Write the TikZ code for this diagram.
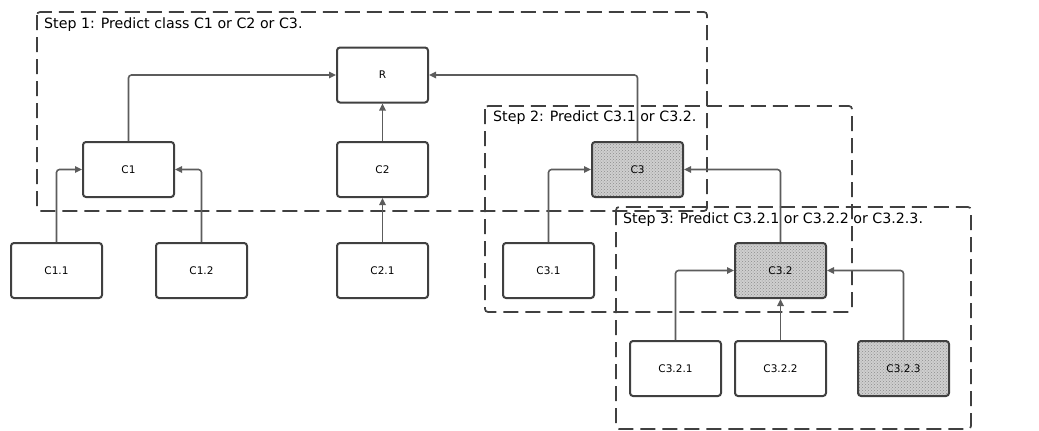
\documentclass[tikz,border=0pt]{standalone}
\usepackage{fontspec}
\setmainfont{DejaVu Sans}
\usepackage{xcolor}
\usepackage{tikz}
\usetikzlibrary{arrows.meta, positioning, patterns}
\definecolor{trait}{HTML}{404040}
\definecolor{lienc}{HTML}{5C5C5C}
\definecolor{fondgris}{HTML}{CFCFCF}
\tikzset{
  bloc/.style={rectangle, rounded corners=3pt, draw=trait, line width=2pt,
    fill=white, font=\fontsize{10.5}{12}\selectfont, minimum width=91pt,
    minimum height=55pt, inner sep=0pt},
  blocgris/.style={bloc, preaction={fill=fondgris},
    pattern=crosshatch dots, pattern color=gray!90},
  fleche/.style={-{Triangle[length=7pt, width=6.5pt]}, line width=1.6pt,
    color=lienc, rounded corners=3pt},
  cadre/.style={dashed, dash pattern=on 15pt off 7pt, line width=1.7pt,
    color=trait, rounded corners=3pt},
  titre/.style={font=\fontsize{14.2}{16}\selectfont, anchor=west, inner sep=0pt}
}
\begin{document}
\begin{tikzpicture}[x=1pt, y=-1pt]
    \useasboundingbox (0, 0) rectangle (1039, 431);

    % Cadres des etapes
    \draw[cadre] (37, 12) rectangle (707, 211);
    \draw[cadre] (485, 106) rectangle (852, 312);
    \draw[cadre] (616, 207) rectangle (971, 429);
    \node[titre] (t1) at (44, 24.5) {Step 1: Predict class C1 or C2 or C3.};
    \node[titre] (t2) at (493, 118) {Step 2: Predict C3.1 or C3.2.};
    \node[titre] (t3) at (623, 220) {Step 3: Predict C3.2.1 or C3.2.2 or C3.2.3.};

    % Noeuds de la hierarchie
    \node[bloc] (r)    at (382.5, 75)    {R};
    \node[bloc] (c1)   at (128.5, 169.5) {C1};
    \node[bloc] (c2)   at (382.5, 169.5) {C2};
    \node[blocgris] (c3) at (637.5, 169.5) {C3};
    \node[bloc] (c11)  at (56.5, 270.5)  {C1.1};
    \node[bloc] (c12)  at (201.5, 270.5) {C1.2};
    \node[bloc] (c21)  at (382.5, 270.5) {C2.1};
    \node[bloc] (c31)  at (548.5, 270.5) {C3.1};
    \node[blocgris] (c32) at (780.5, 270.5) {C3.2};
    \node[bloc] (c321) at (675.5, 368.5) {C3.2.1};
    \node[bloc] (c322) at (780.5, 368.5) {C3.2.2};
    \node[blocgris] (c323) at (903.5, 368.5) {C3.2.3};

    % Liens enfant -> parent
    \draw[fleche] (c1.north) |- (r.west);
    \draw[fleche] (c2) -- (r);
    \draw[fleche] (c3.north) |- (r.east);
    \draw[fleche] (c11.north) |- (c1.west);
    \draw[fleche] (c12.north) |- (c1.east);
    \draw[fleche] (c21) -- (c2);
    \draw[fleche] (c31.north) |- (c3.west);
    \draw[fleche] (c32.north) |- (c3.east);
    \draw[fleche] (c321.north) |- (c32.west);
    \draw[fleche] (c322) -- (c32);
    \draw[fleche] (c323.north) |- (c32.east);
\end{tikzpicture}
\end{document}
